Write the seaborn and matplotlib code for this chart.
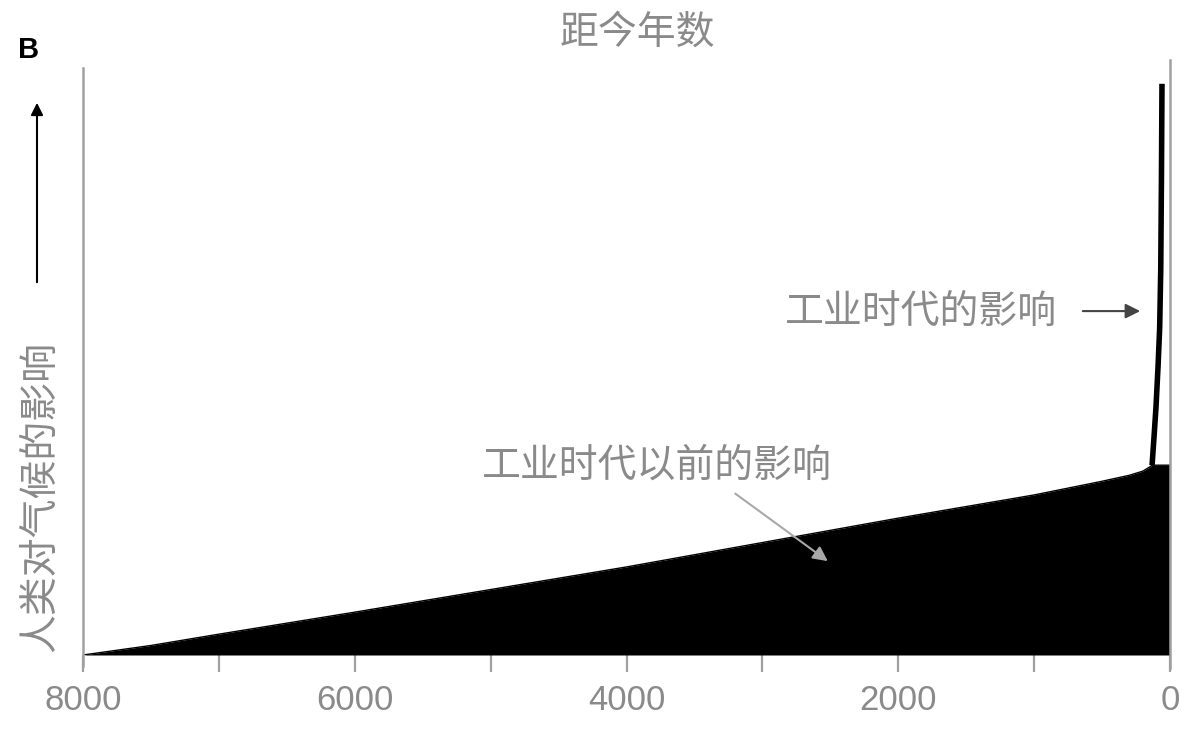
import numpy as np
import pandas as pd
import matplotlib
matplotlib.use("Agg")
import matplotlib.pyplot as plt
import seaborn as sns

# values (years before present, relative impact)
pre_years = [8000, 7500, 7000, 6000, 5000, 4000, 3000, 2000, 1000, 500, 300, 200, 150, 130, 0]
pre_impact = [0, 1.6, 3.5, 7.2, 11.0, 14.8, 18.9, 23.0, 26.9, 29.2, 30.2, 30.9, 31.6, 31.9, 31.9]

ind_years = [132, 118, 103, 88, 76, 68, 63, 59]
ind_impact = [31.9, 36.5, 41.7, 48.5, 55.0, 65.0, 80.0, 96.0]

major_ticks = [8000, 6000, 4000, 2000, 0]
minor_ticks = [7000, 5000, 3000, 1000]

title_text = "距今年数"
ylabel_text = "人类对气候的影响"
label_industrial = "工业时代的影响"
label_pre = "工业时代以前的影响"

sns.set_theme(style="white")
plt.rcParams['font.family'] = ['Noto Sans CJK SC', 'DejaVu Sans']

gray = "#8a8a8a"
spine_gray = "#a0a0a0"

fig = plt.figure(figsize=(12, 7.36), dpi=100)
ax = fig.add_axes([83 / 1200, 81 / 736, 1087 / 1200, 595 / 736])

df_pre = pd.DataFrame({"years": pre_years, "impact": pre_impact})
df_ind = pd.DataFrame({"years": ind_years, "impact": ind_impact})

ax.fill_between(df_pre["years"], df_pre["impact"], color="black", lw=0)
sns.lineplot(data=df_pre, x="years", y="impact", sort=False, color="black", lw=1, ax=ax)
sns.lineplot(data=df_ind, x="years", y="impact", sort=False, color="black", lw=4, ax=ax)
for l in ax.lines:
    l.set_solid_capstyle("butt")

ax.set_xlim(8000, 0)
ax.set_ylim(0, 100)
ax.set_xlabel("")
ax.set_ylabel("")
ax.set_yticks([])
ax.set_xticks(major_ticks)
ax.set_xticks(minor_ticks, minor=True)
ax.set_xticklabels([str(t) for t in major_ticks], family=["Liberation Sans"], fontsize=25, color=gray)
ax.tick_params(axis="x", which="both", direction="out", length=12, width=1.6,
               color=spine_gray, pad=9, bottom=True)

ax.spines["top"].set_visible(False)
ax.spines["bottom"].set_visible(False)
for side in ["left", "right"]:
    ax.spines[side].set_color(spine_gray)
    ax.spines[side].set_linewidth(1.8)
ax.spines["left"].set_bounds(-1.8, 98.6)
ax.spines["right"].set_bounds(-2.2, 100)

# annotations
ax.text(1833, 57.6, label_industrial, fontsize=28, color=gray, ha="center", va="center")
ax.annotate("", xy=(199, 57.8), xytext=(662, 57.8),
            arrowprops=dict(arrowstyle="-|>", color="#444444", lw=1.5, mutation_scale=22))

ax.text(3775, 31.9, label_pre, fontsize=28, color=gray, ha="center", va="center")
ax.annotate("", xy=(2502, 15.5), xytext=(3216, 27.4),
            arrowprops=dict(arrowstyle="-|>", color="#a8a8a8", lw=1.5, mutation_scale=22))

# figure-level labels
fig.text(637 / 1200, 1 - 33 / 736, title_text, fontsize=28, color=gray, ha="center", va="center")
fig.text(40 / 1200, 1 - 497 / 736, ylabel_text, fontsize=28, color=gray, rotation=90,
         ha="center", va="center")
fig.text(29 / 1200, 1 - 50 / 736, "B", fontsize=21, fontweight="bold", color="black",
         family=["Liberation Sans"], ha="center", va="center")
ax.annotate("", xy=(37 / 1200, 1 - 100 / 736), xytext=(37 / 1200, 1 - 285 / 736),
            xycoords="figure fraction", textcoords="figure fraction",
            arrowprops=dict(arrowstyle="-|>", color="black", lw=1.5, mutation_scale=18))

plt.savefig("out.png", dpi=100)
